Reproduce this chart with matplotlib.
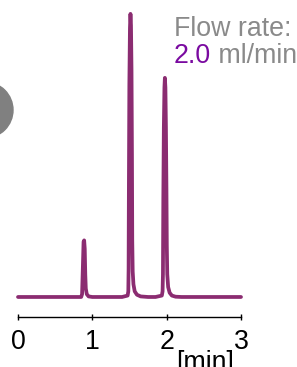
import matplotlib
matplotlib.use("Agg")
import matplotlib.pyplot as plt
from matplotlib.patches import Circle

plt.rcParams['font.family'] = ['Liberation Sans', 'DejaVu Sans']

# Chromatogram trace (time in min, signal in relative units)
time_min = [0.00, 0.85, 0.862, 0.872, 0.882, 0.89, 0.898, 0.905, 0.912, 0.925, 0.95, 1.00,
            1.40, 1.475, 1.484, 1.488, 1.492, 1.498, 1.506, 1.513, 1.52, 1.527, 1.533, 1.537,
            1.543, 1.553, 1.57, 1.60, 1.65, 1.75,
            1.85, 1.935, 1.945, 1.95, 1.955, 1.962, 1.97, 1.976, 1.983, 1.99, 1.997, 2.002,
            2.008, 2.02, 2.04, 2.07, 2.12, 2.20, 3.00]
signal = [0, 0, 1, 10, 19.5, 20, 17, 8, 3, 1, 0.2, 0,
          0, 0.5, 2, 10, 40, 75, 95, 100, 96, 80, 50, 20,
          9, 4.5, 2, 0.8, 0.2, 0,
          0, 0.5, 2, 8, 35, 60, 74, 77.4, 74, 60, 38, 18,
          8, 3.5, 1.5, 0.5, 0.1, 0, 0]

x_ticks = [0, 1, 2, 3]
x_ticklabels = ['0', '1', '2', '3']
x_unit = '[min]'
flow_label = 'Flow rate:'
flow_value = '2.0'
flow_unit = ' ml/min'

W, H = 297, 367
FS = 19.3
fig = plt.figure(figsize=(W / 100, H / 100), dpi=100)
ax = fig.add_axes([18 / W, (H - 317) / H, 223 / W, 317 / H])
ax.set_xlim(0, 3)
ax.set_ylim(-7.07, 104.9)
ax.patch.set_alpha(0)

ax.plot(time_min, signal, color='#8b2c71', lw=2.7, solid_joinstyle='round',
        solid_capstyle='round', clip_on=False)

for s in ['top', 'right', 'left']:
    ax.spines[s].set_visible(False)
ax.spines['bottom'].set_linewidth(1.0)
ax.set_yticks([])
ax.set_xticks(x_ticks)
ax.set_xticklabels(x_ticklabels, fontsize=FS)
ax.tick_params(axis='x', direction='inout', length=4, width=1.0, pad=6.5)

fig.text(176 / W, 1 - 350 / H, x_unit, fontsize=FS, ha='left', va='top')

fig.text(174 / W, 1 - 36 / H, flow_label, fontsize=FS, color='#8a8a8a',
         ha='left', va='baseline')
t2 = fig.text(174 / W, 1 - 63 / H, flow_value, fontsize=FS, color='#7a0aa0',
              ha='left', va='baseline')
fig.add_artist(plt.Annotation(flow_unit, xy=(1, 0), xycoords=t2, fontsize=FS,
                              color='#8a8a8a', ha='left', va='bottom'))

circ = Circle((-0.15, (H - 110) / 100), 0.28, transform=fig.dpi_scale_trans,
              color='#808080', clip_on=False)
fig.patches.append(circ)

fig.savefig('out.png', dpi=100)
